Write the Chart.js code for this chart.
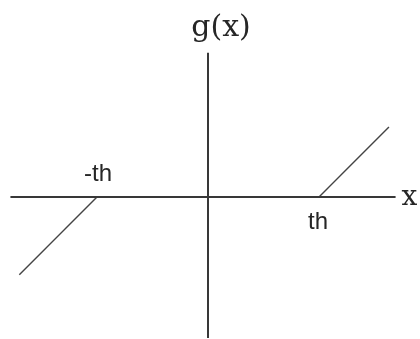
<!DOCTYPE html>
<html>
<head>
<meta charset="utf-8">
<title>g(x)</title>
<script src="https://cdn.jsdelivr.net/npm/chart.js@4.4.1/dist/chart.umd.min.js"></script>
<style>
  html, body { margin: 0; padding: 0; background: #fff; }
  #wrap { width: 420px; height: 339px; }
</style>
</head>
<body>
<div id="wrap"><canvas id="plot" width="420" height="339"></canvas></div>
<script>
// threshold, in data units
const th = 1;

// axis extents
const axisXRange = [-1.78, 1.69];
const axisYRange = [-1.27, 1.30];

// g(x) branches outside the dead zone
const leftX = [-th, -1.70];
const leftY = [0, -0.70];
const rightX = [th, 1.63];
const rightY = [0, 0.63];

// labels
const tickValues = [-th, th];
const tickLabels = ['-th', 'th'];
const axisTitles = ['x', 'g(x)'];

const toPoints = (xs, ys) => xs.map((x, i) => ({ x: x, y: ys[i] }));

// draws tick labels and axis titles at scale positions
const labelPlugin = {
  id: 'labels',
  afterDatasetsDraw(chart) {
    const ctx = chart.ctx;
    const xs = chart.scales.x;
    const ys = chart.scales.y;
    const x0 = xs.getPixelForValue(0);
    const y0 = ys.getPixelForValue(0);
    ctx.save();
    ctx.fillStyle = '#262626';

    // -th above the axis, th below
    ctx.font = '24px "Liberation Sans", Arial, sans-serif';
    ctx.textAlign = 'center';
    ctx.textBaseline = 'alphabetic';
    ctx.fillText(tickLabels[0], xs.getPixelForValue(tickValues[0]) + 1, y0 - 16);
    ctx.fillText(tickLabels[1], xs.getPixelForValue(tickValues[1]) - 1, y0 + 32);

    // axis titles
    ctx.font = '28px "DejaVu Serif", serif';
    ctx.textAlign = 'left';
    ctx.fillText(axisTitles[0], xs.getPixelForValue(axisXRange[1]) + 6, y0 + 8);
    ctx.font = '30px "DejaVu Serif", serif';
    ctx.textAlign = 'center';
    ctx.fillText(axisTitles[1], x0 + 13, ys.getPixelForValue(axisYRange[1]) - 17);
    ctx.restore();
  }
};

new Chart(document.getElementById('plot'), {
  type: 'scatter',
  data: {
    datasets: [
      {
        data: toPoints(axisXRange, [0, 0]),
        borderColor: '#383838',
        borderWidth: 2
      },
      {
        data: toPoints([0, 0], axisYRange),
        borderColor: '#383838',
        borderWidth: 2
      },
      {
        data: toPoints(leftX, leftY),
        borderColor: '#444',
        borderWidth: 1.4
      },
      {
        data: toPoints(rightX, rightY),
        borderColor: '#444',
        borderWidth: 1.4
      }
    ]
  },
  options: {
    responsive: false,
    animation: false,
    devicePixelRatio: 1,
    showLine: true,
    layout: { padding: 0 },
    elements: { point: { radius: 0, hoverRadius: 0 } },
    plugins: {
      legend: { display: false },
      tooltip: { enabled: false }
    },
    scales: {
      x: { type: 'linear', display: false, min: -1.874, max: 1.910 },
      y: { type: 'linear', display: false, min: -1.279, max: 1.775 }
    }
  },
  plugins: [labelPlugin]
});
</script>
</body>
</html>
